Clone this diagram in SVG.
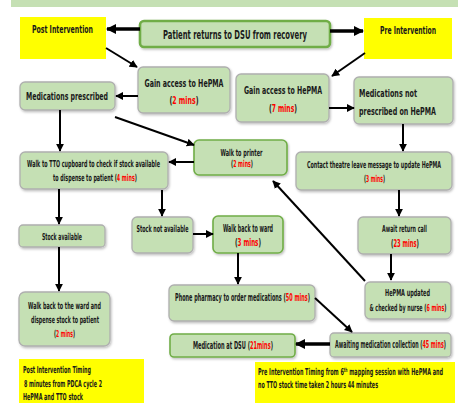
<svg xmlns="http://www.w3.org/2000/svg" width="458" height="403" viewBox="0 0 458 403">
<defs>
<marker id="ah" viewBox="0 0 10 10" refX="9" refY="5" markerWidth="4" markerHeight="4" orient="auto" markerUnits="strokeWidth">
<path d="M0,0 L10,5 L0,10 z" fill="#000"/>
</marker>
<marker id="ahb" viewBox="0 0 10 10" refX="9" refY="5" markerWidth="3" markerHeight="3.2" orient="auto" markerUnits="strokeWidth">
<path d="M0,0 L10,5 L0,10 z" fill="#000"/>
</marker>
<filter id="sh" x="-10%" y="-10%" width="130%" height="140%">
<feDropShadow dx="1" dy="1.5" stdDeviation="1" flood-color="#000" flood-opacity="0.25"/>
</filter>
</defs>
<style>
.box{fill:#C5E0B4;stroke:#AFAFAF;stroke-width:1.3;filter:url(#sh)}
.gbox{fill:#C5E0B4;stroke:#70AD47;stroke-width:1.6;filter:url(#sh)}
.ybox{fill:#FFFF00;stroke:none}
text{font-family:"DejaVu Sans Condensed","Liberation Sans",sans-serif;font-size:9.5px;font-weight:bold;fill:#1a1a1a}
.c{text-anchor:middle}
.r{fill:#FF0000}
.big{font-size:12px}
.med{font-size:10.5px}
.ln{stroke:#000;stroke-width:2;fill:none;marker-end:url(#ah)}
.th{stroke:#000;stroke-width:3.5;fill:none;marker-end:url(#ahb)}
</style>
<rect x="11" y="0" width="447" height="7" fill="#C5E0B4"/>

<g id="post">
<rect class="ybox" x="20" y="17" width="86" height="42"/>
<text class="med c" transform="translate(62.5 33) scale(0.6 1)" textLength="101.7" lengthAdjust="spacingAndGlyphs">Post Intervention</text>
</g>
<g id="patient">
<rect x="140" y="21" width="190" height="26" rx="4" fill="#C5E0B4" stroke="#70AD47" stroke-width="2.6" filter="url(#sh)"/>
<text class="big c" transform="translate(235 39) scale(0.585 1)" textLength="246" lengthAdjust="spacingAndGlyphs">Patient returns to DSU from recovery</text>
</g>
<g id="pre">
<rect class="ybox" x="364" y="18" width="88" height="41"/>
<text class="med c" transform="translate(408 34) scale(0.585 1)" textLength="95.7" lengthAdjust="spacingAndGlyphs">Pre Intervention</text>
</g>
<g id="gain2">
<rect class="box" x="138" y="67" width="92" height="46" rx="5"/>
<text class="med c" transform="translate(184 87) scale(0.66 1)" textLength="119.7" lengthAdjust="spacingAndGlyphs">Gain access to HePMA</text>
<text class="med c" transform="translate(184 104) scale(0.605 1)" textLength="47.9" lengthAdjust="spacingAndGlyphs">(<tspan class="r">2 mins</tspan>)</text>
</g>
<g id="medpres">
<rect class="box" x="20" y="82" width="95" height="28" rx="5"/>
<text class="med c" transform="translate(67 100) scale(0.62 1)" textLength="132.3" lengthAdjust="spacingAndGlyphs">Medications prescribed</text>
</g>
<g id="gain7">
<rect class="box" x="236" y="74" width="93" height="48" rx="5"/>
<text class="med c" transform="translate(283 94) scale(0.65 1)" textLength="120" lengthAdjust="spacingAndGlyphs">Gain access to HePMA</text>
<text class="med c" transform="translate(283 112) scale(0.585 1)" textLength="47.9" lengthAdjust="spacingAndGlyphs">(<tspan class="r">7 mins</tspan>)</text>
</g>
<g id="mednot">
<rect class="box" x="354" y="77" width="99" height="47" rx="5"/>
<text class="med" transform="translate(359 97) scale(0.646 1)" textLength="89.8" lengthAdjust="spacingAndGlyphs">Medications not</text>
<text class="med" transform="translate(359 115) scale(0.677 1)" textLength="113.7" lengthAdjust="spacingAndGlyphs">prescribed on HePMA</text>
</g>
<g id="contact">
<rect class="box" x="296" y="152" width="156" height="38" rx="5"/>
<text class="c" transform="translate(374 168) scale(0.55 1)" textLength="243.6" lengthAdjust="spacingAndGlyphs">Contact theatre leave message to update HePMA</text>
<text class="c" transform="translate(374.5 182) scale(0.485 1)" textLength="43.3" lengthAdjust="spacingAndGlyphs">(<tspan class="r">3 mins</tspan>)</text>
</g>
<g id="printer">
<rect class="gbox" x="194" y="140" width="93" height="35" rx="5"/>
<text class="c" transform="translate(241.5 156) scale(0.52 1)" textLength="80.8" lengthAdjust="spacingAndGlyphs">Walk to printer</text>
<text class="c" transform="translate(242 167) scale(0.51 1)" textLength="43.1" lengthAdjust="spacingAndGlyphs">(<tspan class="r">2 mins</tspan>)</text>
</g>
<g id="tto">
<rect class="box" x="20" y="152" width="148" height="37" rx="5"/>
<text class="c" transform="translate(93.5 167) scale(0.51 1)" textLength="260.8" lengthAdjust="spacingAndGlyphs">Walk to TTO cupboard to check if stock available</text>
<text class="c" transform="translate(95 181) scale(0.5 1)" textLength="168" lengthAdjust="spacingAndGlyphs">to dispense to patient (<tspan class="r">4 mins</tspan>)</text>
</g>
<g id="await">
<rect class="box" x="358" y="217" width="93" height="37" rx="5"/>
<text class="c" transform="translate(404.5 232) scale(0.49 1)" textLength="91.8" lengthAdjust="spacingAndGlyphs">Await return call</text>
<text class="med c" transform="translate(405 247) scale(0.52 1)" textLength="53.8" lengthAdjust="spacingAndGlyphs">(<tspan class="r">23 mins</tspan>)</text>
</g>
<g id="stockavail">
<rect class="box" x="19" y="225" width="86" height="22" rx="4"/>
<text class="c" transform="translate(62 240) scale(0.49 1)" textLength="81.6" lengthAdjust="spacingAndGlyphs">Stock available</text>
</g>
<g id="stocknot">
<rect class="box" x="132" y="217" width="61" height="36" rx="5"/>
<text class="c" transform="translate(162.5 232) scale(0.505 1)" textLength="103" lengthAdjust="spacingAndGlyphs">Stock not available</text>
</g>
<g id="walkback">
<rect class="gbox" x="213" y="216" width="70" height="37" rx="5"/>
<text class="med c" transform="translate(248 232) scale(0.49 1)" textLength="102" lengthAdjust="spacingAndGlyphs">Walk back to ward</text>
<text class="med c" transform="translate(248 246) scale(0.54 1)" textLength="48.1" lengthAdjust="spacingAndGlyphs">(<tspan class="r">3 mins</tspan>)</text>
</g>
<g id="hepma">
<rect class="box" x="365" y="282" width="86" height="37" rx="5"/>
<text class="c" transform="translate(407.5 296) scale(0.64 1)" textLength="70.3" lengthAdjust="spacingAndGlyphs">HePMA updated</text>
<text class="c" transform="translate(408 311) scale(0.53 1)" textLength="145.3" lengthAdjust="spacingAndGlyphs">&amp; checked by nurse (<tspan class="r">6 mins</tspan>)</text>
</g>
<g id="phone">
<rect class="box" x="169" y="285" width="146" height="36" rx="5"/>
<text class="med c" transform="translate(242.5 301) scale(0.5 1)" textLength="270" lengthAdjust="spacingAndGlyphs">Phone pharmacy to order medications (<tspan class="r">50 mins</tspan>)</text>
</g>
<g id="awaiting">
<rect class="box" x="330" y="333" width="121" height="24" rx="4"/>
<text class="med c" transform="translate(390.5 348) scale(0.46 1)" textLength="241.3" lengthAdjust="spacingAndGlyphs">Awaiting medication collection (<tspan class="r">45 mins</tspan>)</text>
</g>
<g id="meddsu">
<rect class="gbox" x="170" y="334" width="125" height="23" rx="4"/>
<text class="med c" transform="translate(233 349) scale(0.51 1)" textLength="156.9" lengthAdjust="spacingAndGlyphs">Medication at DSU (<tspan class="r">21mins</tspan>)</text>
</g>
<g id="dispense">
<rect class="box" x="19" y="292" width="91" height="54" rx="6"/>
<text class="c" transform="translate(64.5 309) scale(0.54 1)" textLength="135.2" lengthAdjust="spacingAndGlyphs">Walk back to the ward and</text>
<text class="c" transform="translate(65 323) scale(0.5 1)" textLength="136" lengthAdjust="spacingAndGlyphs">dispense stock to patient</text>
<text class="c" transform="translate(64.5 337) scale(0.485 1)" textLength="43.3" lengthAdjust="spacingAndGlyphs">(<tspan class="r">2 mins</tspan>)</text>
</g>
<g id="posttiming">
<rect class="ybox" x="19" y="359" width="125" height="44"/>
<text transform="translate(23 373) scale(0.52 1)" textLength="130.8" lengthAdjust="spacingAndGlyphs">Post Intervention Timing</text>
<text transform="translate(24 387) scale(0.53 1)" textLength="147.2" lengthAdjust="spacingAndGlyphs">8 minutes from PDCA cycle 2</text>
<text transform="translate(23 400) scale(0.58 1)" textLength="103.4" lengthAdjust="spacingAndGlyphs">HePMA and TTO stock</text>
</g>
<g id="pretiming">
<rect class="ybox" x="255" y="362" width="200" height="41"/>
<text transform="translate(258 375) scale(0.53 1)" textLength="349" lengthAdjust="spacingAndGlyphs">Pre Intervention Timing from 6<tspan font-size="6" dy="-3">th</tspan><tspan dy="3"> mapping session with HePMA  and</tspan></text>
<text transform="translate(258 388) scale(0.53 1)" textLength="226.4" lengthAdjust="spacingAndGlyphs">no TTO stock time taken 2 hours 44 minutes</text>
</g>

<g id="connectors">
<line class="th" x1="140" y1="29" x2="107" y2="29"/>
<line class="th" x1="330" y1="31" x2="363" y2="31"/>
<line class="ln" x1="106" y1="48" x2="137" y2="67"/>
<line class="ln" x1="138" y1="96" x2="116" y2="96"/>
<line class="ln" x1="365" y1="53" x2="332" y2="76"/>
<line class="ln" x1="329" y1="108" x2="354" y2="108"/>
<line class="ln" x1="403" y1="124" x2="403" y2="151"/>
<line class="ln" x1="399" y1="190" x2="399" y2="216"/>
<line class="ln" x1="391" y1="254" x2="391" y2="280"/>
<line class="ln" x1="365" y1="281" x2="273" y2="181"/>
<line class="ln" x1="115" y1="117" x2="194" y2="145"/>
<line class="ln" x1="194" y1="162" x2="169" y2="162"/>
<line class="ln" x1="60" y1="110" x2="60" y2="151"/>
<line class="ln" x1="59" y1="189" x2="59" y2="224"/>
<line class="ln" x1="162" y1="190" x2="162" y2="216"/>
<line class="ln" x1="193" y1="234" x2="213" y2="234"/>
<line class="ln" x1="238" y1="253" x2="238" y2="284"/>
<line class="ln" x1="315" y1="298" x2="352" y2="332"/>
<line class="th" x1="330" y1="344" x2="296" y2="344"/>
<line class="ln" x1="59" y1="247" x2="59" y2="291"/>
</g>
</svg>
